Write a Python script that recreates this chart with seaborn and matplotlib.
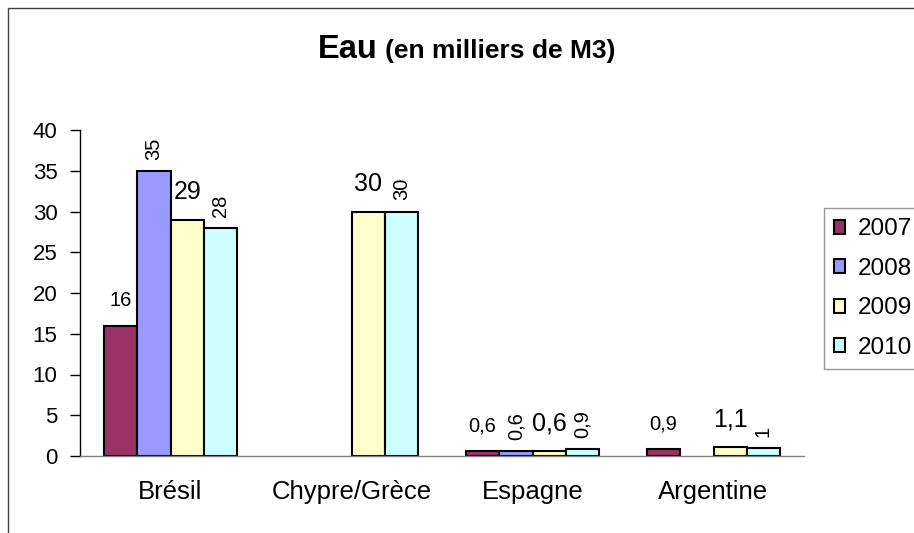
import numpy as np
import pandas as pd
import matplotlib
matplotlib.use("Agg")
import matplotlib.pyplot as plt
from matplotlib.patches import Rectangle
import seaborn as sns

# ---- data ----
categories = ["Brésil", "Chypre/Grèce", "Espagne", "Argentine"]
years = ["2007", "2008", "2009", "2010"]
v2007 = [16, np.nan, 0.6, 0.9]
v2008 = [35, np.nan, 0.6, np.nan]
v2009 = [29, 30, 0.6, 1.1]
v2010 = [28, 30, 0.9, 1]
yticks = [0, 5, 10, 15, 20, 25, 30, 35, 40]
colors = ["#993366", "#9999FF", "#FFFFCC", "#CCFFFF"]

# label styles per year (rows) and category (cols): (fontsize, rotation)
label_style = {
    "2007": [(14.5, 0), None, (14.5, 0), (14.5, 0)],
    "2008": [(14.5, 90), None, (14.5, 90), None],
    "2009": [(18, 0), (18, 0), (18, 0), (18, 0)],
    "2010": [(14.5, 90), (14.5, 90), (14.5, 90), (14.5, 90)],
}

rows = []
for y, vals in zip(years, [v2007, v2008, v2009, v2010]):
    for c, v in zip(categories, vals):
        rows.append({"cat": c, "year": y, "val": v})
df = pd.DataFrame(rows)

sns.set_style("white")
plt.rcParams["font.family"] = ["Liberation Sans", "DejaVu Sans"]
plt.rcParams["text.color"] = "black"
plt.rcParams["xtick.color"] = "black"
plt.rcParams["ytick.color"] = "black"
plt.rcParams["axes.labelcolor"] = "black"

fig = plt.figure(figsize=(9.14, 5.33), dpi=100)
ax = fig.add_axes([80/914, 1-456/533, (804-80)/914, (456-130)/533])

sns.barplot(data=df.dropna(), x="cat", y="val", hue="year", order=categories,
            hue_order=years, palette=colors, width=0.735, edgecolor="black",
            linewidth=1.5, saturation=1, ax=ax, errorbar=None)

def fmt(v):
    s = f"{v:g}"
    return s.replace(".", ",")

# annotate
for yi, y in enumerate(years):
    vals = [v2007, v2008, v2009, v2010][yi]
    present = [ci for ci, v in enumerate(vals) if not np.isnan(v)]
    bars = ax.containers[yi]
    for bar, ci in zip(bars, present):
        v = vals[ci]
        style = label_style[y][ci]
        if style is None:
            continue
        fs, rot = style
        x = bar.get_x() + bar.get_width() / 2
        h = bar.get_height()
        if rot == 0:
            ax.annotate(fmt(v), (x, h), xytext=(0, 11), textcoords="offset points",
                        ha="center", va="bottom", fontsize=fs, rotation=0)
        else:
            ax.annotate(fmt(v), (x, h), xytext=(0, 8), textcoords="offset points",
                        ha="center", va="bottom", fontsize=fs, rotation=90)

ax.set_xlim(-0.5, len(categories) - 0.5)
ax.set_ylim(0, 40)
ax.set_yticks(yticks)
ax.set_yticklabels([str(t) for t in yticks], fontsize=16)
ax.set_xlabel("")
ax.set_ylabel("")
ax.set_xticks(range(len(categories)))
ax.set_xticklabels(categories, fontsize=18.5)
ax.tick_params(axis="x", which="major", length=0, pad=17)
ax.set_xticks(np.arange(-0.5, len(categories), 1), minor=True)
ax.tick_params(axis="x", which="minor", length=6, width=1, color="#808080", direction="out")
ax.tick_params(axis="y", length=7.2, width=1, color="black", direction="out", left=True, pad=9)

for s in ["top", "right"]:
    ax.spines[s].set_visible(False)
ax.spines["left"].set_color("black")
ax.spines["left"].set_linewidth(1)
ax.spines["bottom"].set_color("#808080")
ax.spines["bottom"].set_linewidth(1)

handles, labels = ax.get_legend_handles_labels()
ax.get_legend().remove()
leg = fig.legend(handles, labels, loc="upper left", bbox_to_anchor=(824/914, 1-208/533),
                 frameon=True, fancybox=False, fontsize=17.5, handlelength=0.45,
                 handleheight=0.5, handletextpad=0.5, labelspacing=0.72,
                 borderaxespad=0, borderpad=0.42)
leg.get_frame().set_edgecolor("#808080")
leg.get_frame().set_linewidth(1)

# title
fig.text(378/914, 1-58/533, "Eau", fontsize=23.5, fontweight="bold", ha="right", va="baseline")
fig.text(385/914, 1-58/533, "(en milliers de M3)", fontsize=19, fontweight="bold",
         ha="left", va="baseline")

# chart border
fig.patches.append(Rectangle((8/914, -0.05), 1.0, 1.05 - 8/533, transform=fig.transFigure,
                             fill=False, edgecolor="#404040", linewidth=1))

fig.savefig("out.png", dpi=100)
